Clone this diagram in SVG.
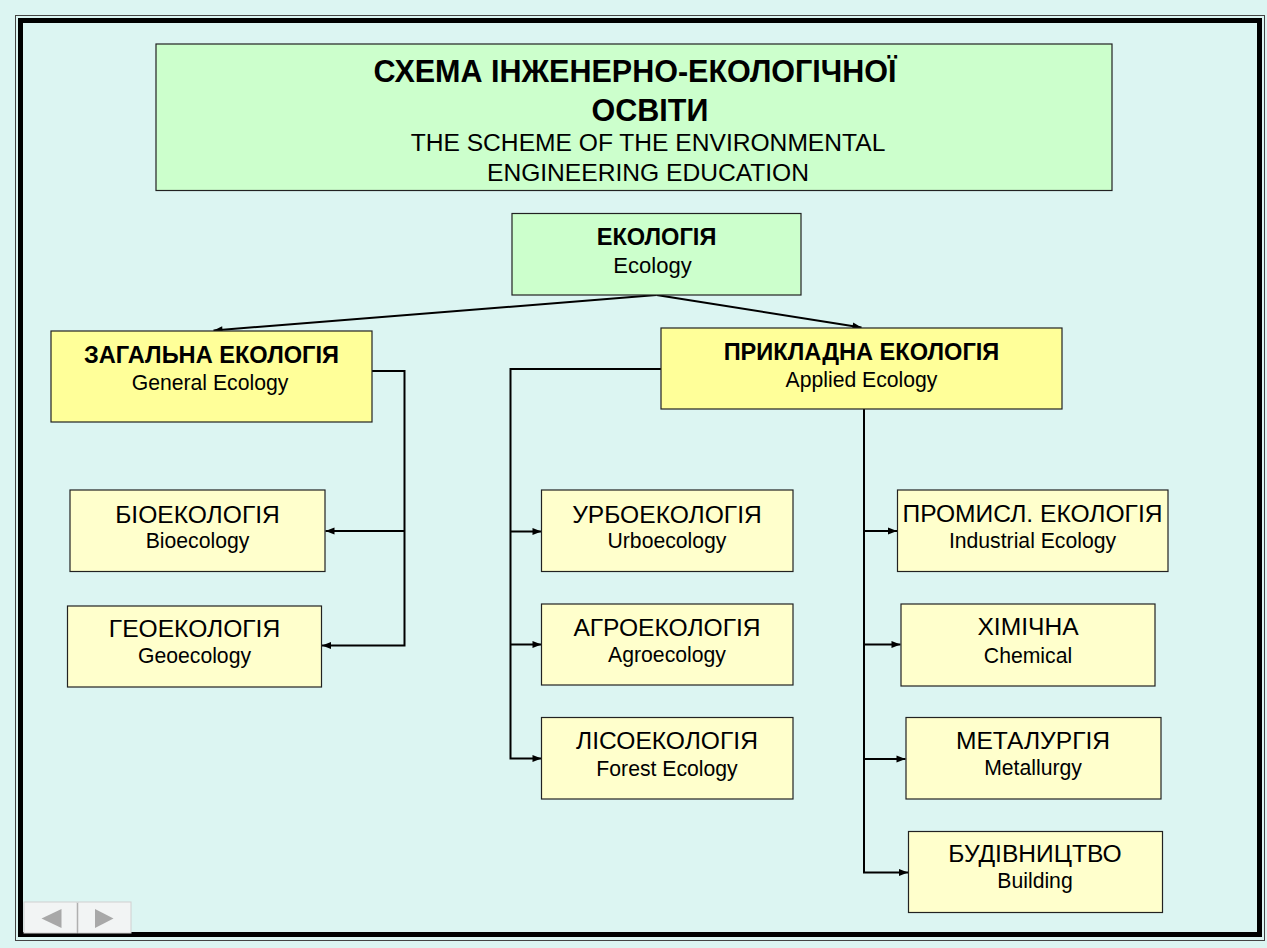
<svg xmlns="http://www.w3.org/2000/svg" width="1267" height="948" viewBox="0 0 1267 948">
<style>
  text { font-family: "Liberation Sans", Arial, sans-serif; fill: #000; text-anchor: middle; }
  .green { fill: #ccffcc; stroke: #222; stroke-width: 1.2; }
  .main { fill: #ffff99; stroke: #222; stroke-width: 1.2; }
  .sub { fill: #ffffcc; stroke: #222; stroke-width: 1.2; }
  .tb { font-size: 30.5px; font-weight: bold; }
  .ts { font-size: 24.6px; }
  .hb { font-size: 23.6px; font-weight: bold; }
  .ua { font-size: 24.6px; }
  .en { font-size: 21.2px; }
  .con { fill: none; stroke: #000; stroke-width: 2; }
</style>
<defs>
  <marker id="arr" viewBox="0 0 10 10" refX="10" refY="5" markerWidth="10" markerHeight="9" markerUnits="userSpaceOnUse" orient="auto">
    <path d="M0,1 L10,5 L0,9 z" fill="#000"/>
  </marker>
</defs>
<rect x="0" y="0" width="1267" height="948" fill="#dcf5f2"/>
<g id="frame">
  <rect x="15.5" y="15.5" width="1249" height="925" fill="none" stroke="#444" stroke-width="1"/>
  <rect x="20.5" y="20.5" width="1239" height="914" fill="none" stroke="#000" stroke-width="5"/>
</g>
<g id="title">
  <rect class="green" x="156" y="44" width="956" height="146.5"/>
  <text class="tb" x="635" y="81.5">СХЕМА ІНЖЕНЕРНО-ЕКОЛОГІЧНОЇ</text>
  <text class="tb" x="650" y="120.5">ОСВІТИ</text>
  <text class="ts" x="648" y="150.5">THE SCHEME OF THE ENVIRONMENTAL</text>
  <text class="ts" x="648" y="180.5">ENGINEERING EDUCATION</text>
</g>
<g id="connectors">
  <path class="con" d="M656.5,295 L213.5,330.5" stroke-width="1.8" marker-end="url(#arr)"/>
  <path class="con" d="M656.5,295 L861.5,327.5" stroke-width="1.8" marker-end="url(#arr)"/>
  <path class="con" d="M372,371 H404.5 V645.5 H322" marker-end="url(#arr)"/>
  <path class="con" d="M404.5,531 H325.5" marker-end="url(#arr)"/>
  <path class="con" d="M661,369 H510.5 V758.5 H541.5" marker-end="url(#arr)"/>
  <path class="con" d="M510.5,531.5 H541.5" marker-end="url(#arr)"/>
  <path class="con" d="M510.5,644.5 H541.5" marker-end="url(#arr)"/>
  <path class="con" d="M864,409 V872.5 H908" marker-end="url(#arr)"/>
  <path class="con" d="M864,531 H897" marker-end="url(#arr)"/>
  <path class="con" d="M864,644.5 H900.5" marker-end="url(#arr)"/>
  <path class="con" d="M864,759 H905.5" marker-end="url(#arr)"/>
</g>
<g id="ecology">
  <rect class="green" x="512" y="213.5" width="289" height="81.5"/>
  <text class="hb" x="656.5" y="245">ЕКОЛОГІЯ</text>
  <text class="en" x="652.5" y="273" style="font-size:22px">Ecology</text>
</g>
<g id="general">
  <rect class="main" x="51" y="331" width="321" height="91"/>
  <text class="hb" x="211.5" y="362.5">ЗАГАЛЬНА ЕКОЛОГІЯ</text>
  <text class="en" x="210" y="390">General Ecology</text>
</g>
<g id="applied">
  <rect class="main" x="661" y="328" width="401" height="81"/>
  <text class="hb" x="861.5" y="360">ПРИКЛАДНА ЕКОЛОГІЯ</text>
  <text class="en" x="861.5" y="387">Applied Ecology</text>
</g>
<g id="bio">
  <rect class="sub" x="70" y="490" width="255" height="81.5"/>
  <text class="ua" x="197.5" y="522.5">БІОЕКОЛОГІЯ</text>
  <text class="en" x="197.5" y="548">Bioecology</text>
</g>
<g id="geo">
  <rect class="sub" x="67.5" y="606" width="254" height="81"/>
  <text class="ua" x="194.5" y="637">ГЕОЕКОЛОГІЯ</text>
  <text class="en" x="194.5" y="663">Geoecology</text>
</g>
<g id="urbo">
  <rect class="sub" x="541.5" y="490" width="251.5" height="81.5"/>
  <text class="ua" x="667" y="522.5">УРБОЕКОЛОГІЯ</text>
  <text class="en" x="667" y="548">Urboecology</text>
</g>
<g id="agro">
  <rect class="sub" x="541.5" y="604" width="251.5" height="81"/>
  <text class="ua" x="667" y="636">АГРОЕКОЛОГІЯ</text>
  <text class="en" x="667" y="661.5">Agroecology</text>
</g>
<g id="forest">
  <rect class="sub" x="541.5" y="717.5" width="251.5" height="81.5"/>
  <text class="ua" x="667" y="749">ЛІСОЕКОЛОГІЯ</text>
  <text class="en" x="667" y="776">Forest Ecology</text>
</g>
<g id="industrial">
  <rect class="sub" x="897.5" y="490" width="270.5" height="81.5"/>
  <text class="ua" x="1032.5" y="521.5">ПРОМИСЛ. ЕКОЛОГІЯ</text>
  <text class="en" x="1032.5" y="548">Industrial Ecology</text>
</g>
<g id="chemical">
  <rect class="sub" x="901" y="604" width="254" height="82"/>
  <text class="ua" x="1028" y="635">ХІМІЧНА</text>
  <text class="en" x="1028" y="662.5">Chemical</text>
</g>
<g id="metallurgy">
  <rect class="sub" x="906" y="717.5" width="255" height="81.5"/>
  <text class="ua" x="1033" y="749">МЕТАЛУРГІЯ</text>
  <text class="en" x="1033" y="775">Metallurgy</text>
</g>
<g id="building">
  <rect class="sub" x="908.5" y="831.5" width="254" height="81"/>
  <text class="ua" x="1035" y="862">БУДІВНИЦТВО</text>
  <text class="en" x="1035" y="888">Building</text>
</g>
<g id="nav">
  <rect x="24" y="902" width="53" height="31" fill="#f2f4f4" stroke="#d0d0d0" stroke-width="1"/>
  <rect x="78" y="902" width="53" height="31" fill="#f2f4f4" stroke="#d0d0d0" stroke-width="1"/>
  <line x1="77.5" y1="903" x2="77.5" y2="933" stroke="#b0b0b0" stroke-width="1"/>
  <path d="M41.5,918.5 L61.5,909 L61.5,928 z" fill="#a8a8a8"/>
  <path d="M113.5,918.5 L95,909 L95,928 z" fill="#a8a8a8"/>
</g>
</svg>
